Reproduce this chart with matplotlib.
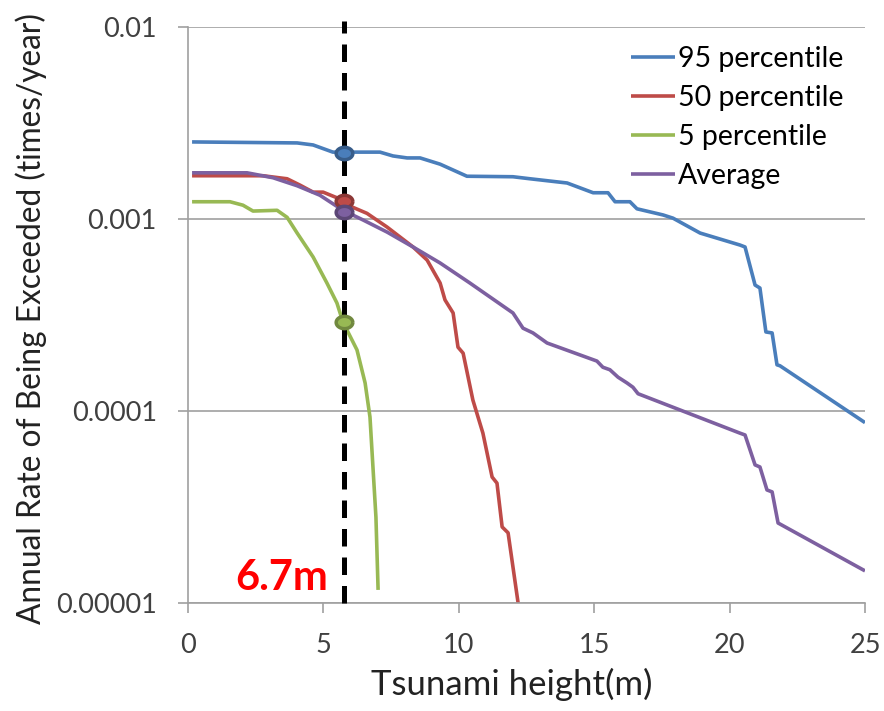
import numpy as np
import matplotlib.pyplot as plt
from matplotlib.path import Path

plt.rcParams['font.family'] = ['Lato', 'DejaVu Sans']

# --- data (x in m, y in times/year) ---
x95 = [0.15, 4.03, 4.62, 5.35, 6.09, 7.09, 7.57, 8.09, 8.57, 9.31, 10.30, 12.0, 12.63,
       14.0, 14.96, 15.51, 15.77, 16.32, 16.58, 17.54, 17.91, 18.91, 20.38, 20.57, 20.94,
       21.12, 21.34, 21.57, 21.75, 21.86, 25.0]
y95 = [2.52e-3, 2.49e-3, 2.43e-3, 2.23e-3, 2.23e-3, 2.23e-3, 2.13e-3, 2.08e-3, 2.08e-3,
       1.93e-3, 1.67e-3, 1.66e-3, 1.62e-3, 1.54e-3, 1.37e-3, 1.37e-3, 1.23e-3, 1.23e-3,
       1.13e-3, 1.05e-3, 1.01e-3, 8.45e-4, 7.32e-4, 7.15e-4, 4.53e-4, 4.37e-4, 2.58e-4,
       2.55e-4, 1.74e-4, 1.72e-4, 8.7e-5]

x50 = [0.15, 2.77, 3.66, 4.14, 4.62, 4.99, 5.50, 6.09, 6.61, 7.35, 8.31, 8.83, 9.31,
       9.49, 9.79, 9.97, 10.16, 10.52, 10.89, 11.23, 11.41, 11.60, 11.82, 12.19]
y50 = [1.68e-3, 1.68e-3, 1.62e-3, 1.50e-3, 1.38e-3, 1.38e-3, 1.29e-3, 1.15e-3, 1.07e-3,
       9.08e-4, 7.15e-4, 6.11e-4, 4.64e-4, 3.79e-4, 3.24e-4, 2.15e-4, 2.00e-4, 1.14e-4,
       7.67e-5, 4.53e-5, 4.21e-5, 2.49e-5, 2.32e-5, 1.0e-5]

x05 = [0.15, 1.55, 2.03, 2.40, 3.29, 3.66, 4.03, 4.62, 5.13, 5.50, 5.72, 6.24, 6.54,
       6.72, 6.83, 6.94, 7.02]
y05 = [1.23e-3, 1.23e-3, 1.18e-3, 1.10e-3, 1.11e-3, 1.02e-3, 8.45e-4, 6.34e-4, 4.64e-4,
       3.65e-4, 2.91e-4, 2.08e-4, 1.40e-4, 9.3e-5, 5.1e-5, 2.8e-5, 1.17e-5]

xavg = [0.15, 2.18, 3.14, 4.03, 4.87, 5.72, 6.46, 7.35, 8.31, 9.31, 10.41, 12.0, 12.37,
        12.74, 13.26, 15.10, 15.32, 15.58, 15.88, 16.21, 16.43, 16.62, 20.38, 20.57,
        20.94, 21.12, 21.38, 21.57, 21.79, 25.0]
yavg = [1.74e-3, 1.74e-3, 1.64e-3, 1.49e-3, 1.33e-3, 1.11e-3, 9.89e-4, 8.55e-4, 7.15e-4,
        5.90e-4, 4.64e-4, 3.24e-4, 2.70e-4, 2.55e-4, 2.26e-4, 1.82e-4, 1.69e-4, 1.64e-4,
        1.50e-4, 1.40e-4, 1.33e-4, 1.23e-4, 7.67e-5, 7.50e-5, 5.24e-5, 5.11e-5, 3.88e-5,
        3.79e-5, 2.61e-5, 1.47e-5]

# points where the curves cross the design height line
x_mark = 5.76
y_mark = [2.22e-3, 1.24e-3, 2.91e-4, 1.09e-3]

labels = ['95 percentile', '50 percentile', '5 percentile', 'Average']
colors = ['#4A7EBB', '#BE4B48', '#98B954', '#7D60A0']
edges = ['#385D8A', '#8C3836', '#71893F', '#5C4776']
y_ticks = [1e-5, 1e-4, 1e-3, 1e-2]
y_ticklabels = ['0.00001', '0.0001', '0.001', '0.01']

# ellipse marker (wider than tall)
t = np.linspace(0, 2 * np.pi, 60)
ellipse = Path(np.column_stack([1.35 * np.cos(t), np.sin(t)]))

fig = plt.figure(figsize=(8.84, 7.11), dpi=100)
ax = fig.add_axes([188 / 884, 1 - 603 / 711, (865 - 188) / 884, (603 - 27) / 711])

series = [(x95, y95), (x50, y50), (x05, y05), (xavg, yavg)]
for (xs, ys), lab, c in zip(series, labels, colors):
    ax.plot(xs, ys, color=c, lw=2.6, label=lab, solid_capstyle='butt')

ax.axvline(x_mark, ymin=0, ymax=1.01, color='black', lw=3.6, ls=(0, (3.5, 2.2)),
           clip_on=False, zorder=3)

for ym, c, e in zip(y_mark, colors, edges):
    ax.plot([x_mark], [ym], marker=ellipse, ms=12, mfc=c, mec=e, mew=2.5, zorder=5)

ax.text(5.17, 1.17e-5, '6.7m', color='red', fontsize=30, fontweight='bold',
        ha='right', va='baseline')

ax.set_yscale('log')
ax.set_ylim(1e-5, 1e-2)
ax.set_xlim(0, 25)
ax.set_yticks(y_ticks)
ax.set_yticklabels(y_ticklabels)
ax.minorticks_off()
ax.set_xticks([0, 5, 10, 15, 20, 25])
ax.tick_params(axis='both', labelsize=19.5, colors='#A0A0A0', labelcolor='#404040',
               length=7.5, width=1.2)
ax.tick_params(axis='y', pad=15)
ax.tick_params(axis='x', pad=14)
ax.grid(axis='y', color='#A0A0A0', lw=1.2)
ax.set_axisbelow(True)
for s in ['top', 'right']:
    ax.spines[s].set_visible(False)
for s in ['left', 'bottom']:
    ax.spines[s].set_color('#A0A0A0')
    ax.spines[s].set_linewidth(1.2)

ax.set_xlabel('Tsunami height(m)', fontsize=25, color='#222222')
ax.xaxis.set_label_coords((512 - 188) / 677, (603 - 668) / 576)
ax.set_ylabel('Annual Rate of Being Exceeded (times/year)', fontsize=22.8,
              color='#222222')
ax.yaxis.set_label_coords((47 - 188) / 677, (603 - 319) / 576)

leg = ax.legend(loc='upper right', frameon=False, fontsize=20.5, handlelength=1.55,
                handletextpad=0.1, labelspacing=0.45, borderaxespad=0.0,
                bbox_to_anchor=(0.985, 0.986))

fig.savefig('out.png', dpi=100)
